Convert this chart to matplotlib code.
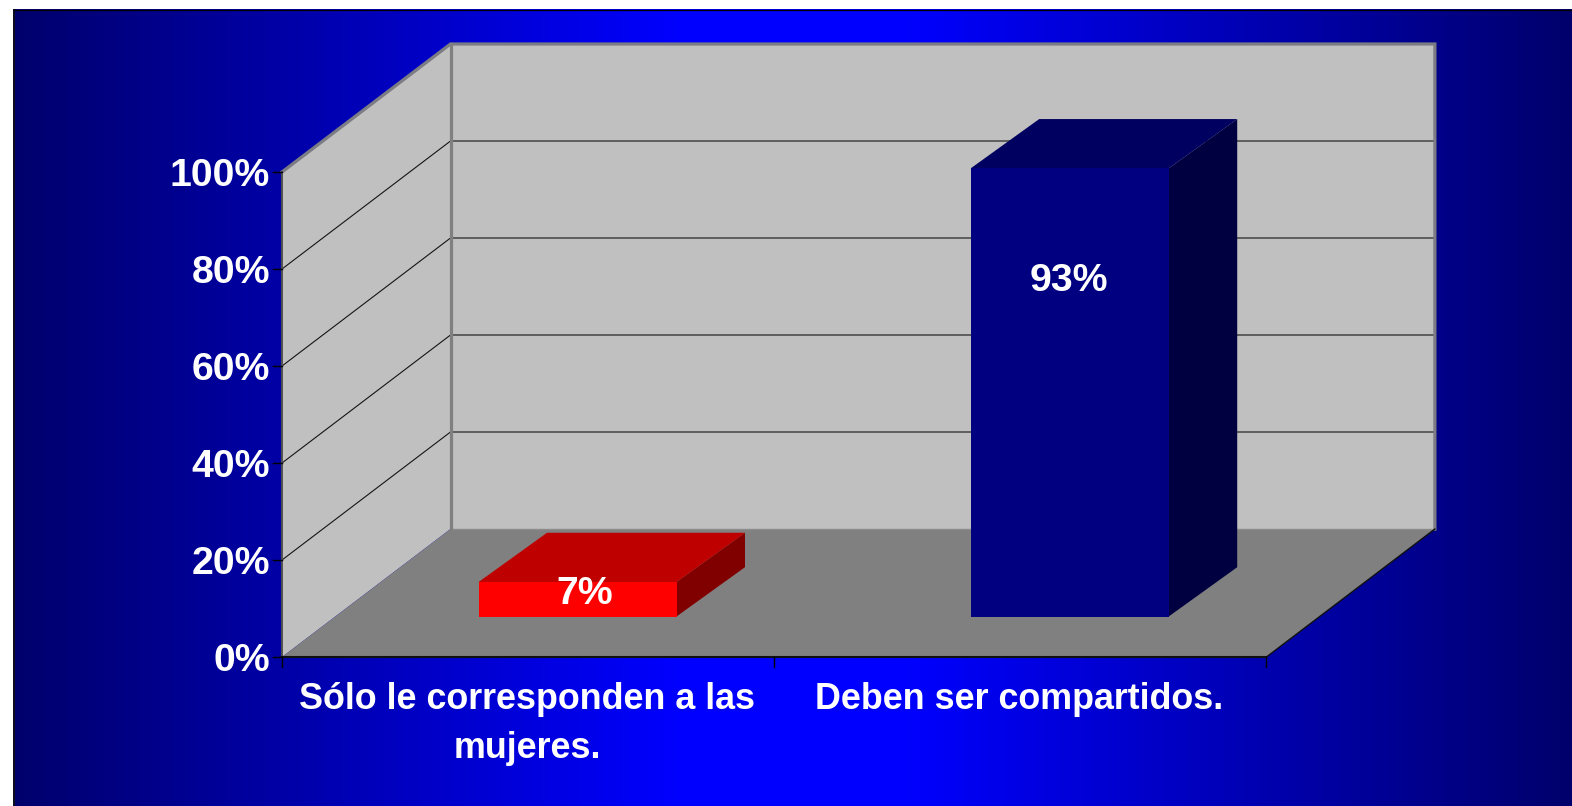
"""Fake 3D column chart with a blue gradient slide background."""

import matplotlib

matplotlib.use("Agg")

import matplotlib.pyplot as plt
import numpy as np
from matplotlib.colors import LinearSegmentedColormap
from matplotlib.patches import Polygon

plt.rcParams["font.family"] = ["Liberation Sans", "DejaVu Sans"]

CATEGORIES = ["Sólo le corresponden a las\nmujeres.", "Deben ser compartidos."]
VALUES = [7.1, 92.4]
VALUE_LABELS = ["7%", "93%"]
TICKS = [0, 20, 40, 60, 80, 100]
TICK_LABELS = ["0%", "20%", "40%", "60%", "80%", "100%"]

FRONT_COLORS = ["#ff0000", "#000080"]
TOP_COLORS = ["#bf0000", "#000060"]
SIDE_COLORS = ["#800000", "#000040"]

WALL = "#c0c0c0"
FLOOR = "#808080"

# pixel layout of the box
X0 = 282
Y0 = 657
CAT_W = 492.2
PX_PER_PCT = 4.85
DEPTH_X = 168.5
DEPTH_Y = 128
BAR_W = 198
BAR_LEFT_PAD = 196.5
BAR_FRONT_Y = 40.5
BAR_DX = 68.5
BAR_DY = 49.3


def project(cat, value, depth=0.0):
    """Category units, percent and 0-1 depth to figure pixels."""
    return (X0 + cat * CAT_W + depth * DEPTH_X, Y0 - value * PX_PER_PCT - depth * DEPTH_Y)


def draw_background(ax):
    cmap = LinearSegmentedColormap.from_list(
        "slide", [(0, "#00006c"), (0.428, "#0000ff"), (0.572, "#0000ff"), (1, "#00006c")]
    )
    gradient = np.linspace(0, 1, 1024).reshape(1, -1)
    ax.imshow(gradient, aspect="auto", cmap=cmap, extent=[13, 1572, 806, 9], zorder=0)
    ax.plot([13.5, 13.5], [806, 9.5], color="#101010", lw=1.2, zorder=1)
    ax.plot([13.5, 1572], [9.5, 9.5], color="black", lw=0.9, zorder=1)


def draw_box(ax):
    n = len(CATEGORIES)
    top = TICKS[-1]

    left_wall = [project(0, 0), project(0, top), project(0, top, 1), project(0, 0, 1)]
    back_wall = [project(0, 0, 1), project(0, top, 1), project(n, top, 1), project(n, 0, 1)]
    floor = [project(0, 0), project(n, 0), project(n, 0, 1), project(0, 0, 1)]
    ax.add_patch(Polygon(left_wall, facecolor=WALL, edgecolor="none", zorder=2))
    ax.add_patch(Polygon(back_wall, facecolor=WALL, edgecolor="none", zorder=2))
    ax.add_patch(Polygon(floor, facecolor=FLOOR, edgecolor="none", zorder=2))

    for tick in TICKS[1:-1]:
        pts = [project(0, tick), project(0, tick, 1), project(n, tick, 1)]
        ax.plot(*zip(*pts), color="#141414", lw=0.8, zorder=3)

    # thick grey wall edges
    edge = [project(0, top), project(0, top, 1), project(n, top, 1), project(n, 0, 1)]
    ax.plot(*zip(*edge), color="#7c7c84", lw=2.3, zorder=4, solid_joinstyle="miter")
    ax.plot(*zip(project(0, 0, 1), project(0, top, 1)), color=FLOOR, lw=2.3, zorder=4)
    ax.plot(*zip(project(0, 0, 1), project(n, 0, 1)), color="#8c8c8c", lw=1, zorder=3)

    # axis lines and ticks
    ax.plot(*zip(project(0, 0), project(0, top)), color="#505050", lw=1.4, zorder=5)
    ax.plot(*zip(project(0, 0), project(n, 0)), color="#101010", lw=1.5, zorder=5)
    ax.plot(*zip(project(n, 0), project(n, 0, 1)), color="#101010", lw=1, zorder=5)

    for tick, label in zip(TICKS, TICK_LABELS):
        x, y = project(0, tick)
        ax.plot([x - 9, x], [y, y], color="black", lw=1, zorder=5)
        ax.text(x - 12, y, label, ha="right", va="center_baseline", color="white",
                fontsize=28.3, fontweight="bold", zorder=6)

    for i in range(n + 1):
        x, y = project(i, 0)
        ax.plot([x, x], [y, y + 10], color="black", lw=1, zorder=5)


def draw_bars(ax):
    for i, value in enumerate(VALUES):
        left, _ = project(i, 0)
        left += BAR_LEFT_PAD
        base = Y0 - BAR_FRONT_Y
        height = value * PX_PER_PCT
        front = [(left, base), (left + BAR_W, base), (left + BAR_W, base - height), (left, base - height)]
        top = [(left, base - height), (left + BAR_W, base - height),
               (left + BAR_W + BAR_DX, base - height - BAR_DY), (left + BAR_DX, base - height - BAR_DY)]
        side = [(left + BAR_W, base), (left + BAR_W + BAR_DX, base - BAR_DY),
                (left + BAR_W + BAR_DX, base - height - BAR_DY), (left + BAR_W, base - height)]
        ax.add_patch(Polygon(side, facecolor=SIDE_COLORS[i], edgecolor="none", zorder=7))
        ax.add_patch(Polygon(top, facecolor=TOP_COLORS[i], edgecolor="none", zorder=7))
        ax.add_patch(Polygon(front, facecolor=FRONT_COLORS[i], edgecolor="none", zorder=7))

    # labels sit around the bar tops, like the source chart
    red_left = project(0, 0)[0] + BAR_LEFT_PAD
    blue_left = project(1, 0)[0] + BAR_LEFT_PAD
    ax.text(red_left + BAR_W / 2 + 7, Y0 - BAR_FRONT_Y - VALUES[0] * PX_PER_PCT + 8, VALUE_LABELS[0],
            ha="center", va="center_baseline", color="white", fontsize=28.3, fontweight="bold", zorder=8)
    ax.text(blue_left + BAR_W / 2 - 1, Y0 - BAR_FRONT_Y - VALUES[1] * PX_PER_PCT + 109, VALUE_LABELS[1],
            ha="center", va="center_baseline", color="white", fontsize=28.3, fontweight="bold", zorder=8)


def draw_categories(ax):
    for i, label in enumerate(CATEGORIES):
        x, y = project(i + 0.5, 0)
        ax.text(x - 1, y + 25, label, ha="center", va="top", color="white", fontsize=25.8,
                fontweight="bold", linespacing=1.5, zorder=6)


fig = plt.figure(figsize=(15.72, 8.06), dpi=100, facecolor="white")
ax = fig.add_axes([0, 0, 1, 1])
draw_background(ax)
draw_box(ax)
draw_bars(ax)
draw_categories(ax)
ax.set_xlim(0, 1572)
ax.set_ylim(806, 0)
ax.axis("off")
fig.savefig("out.png", dpi=100, facecolor="white")
